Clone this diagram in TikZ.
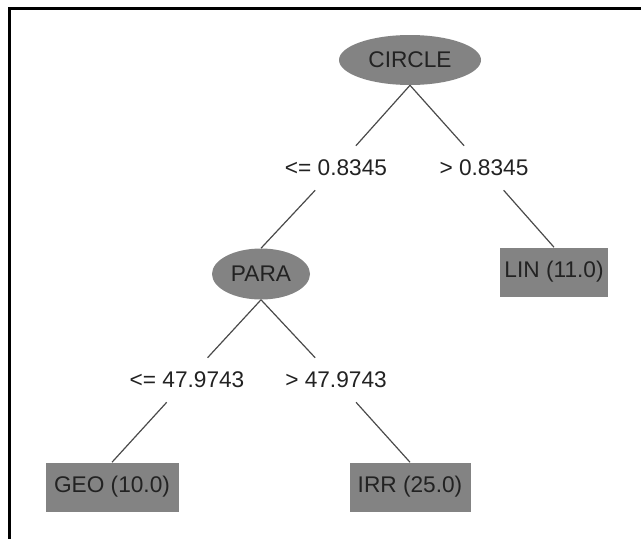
\documentclass[tikz,border=0pt]{standalone}
\usepackage{fontspec}
\setmainfont{Liberation Sans}
\usetikzlibrary{shapes.geometric}
\definecolor{nodefill}{HTML}{838383}
\definecolor{txt}{HTML}{222222}
\definecolor{edgecol}{HTML}{4A4A4A}
\begin{document}
\begin{tikzpicture}[x=0.75pt,y=-0.75pt,
  every node/.style={font=\fontsize{17}{20}\selectfont, text=txt},
  splitnode/.style={ellipse, fill=nodefill, inner sep=0pt},
  leafnode/.style={rectangle, fill=nodefill, inner sep=0pt, minimum height=36.75pt},
  condlabel/.style={inner sep=0pt, minimum height=33pt, minimum width=80pt},
  branch/.style={draw=edgecol, line width=0.9pt}]
\useasboundingbox (0,0) rectangle (641,539);
% frame
\draw[line width=2.25pt, black] (641,8.5) -- (9.5,8.5) -- (9.5,539);
% nodes
\node[splitnode, minimum width=106.5pt, minimum height=37.5pt] (circle) at (410,60) {CIRCLE};
\node[splitnode, minimum width=73.5pt, minimum height=38.25pt] (para) at (261,274) {PARA};
\node[leafnode, minimum width=81pt] (lin) at (554,272) {LIN (11.0)};
\node[leafnode, minimum width=99.75pt] (geo) at (112,487) {GEO (10.0)};
\node[leafnode, minimum width=90.75pt] (irr) at (410,487) {IRR (25.0)};
\node[condlabel] (l1) at (336,168) {<= 0.8345};
\node[condlabel] (l2) at (484,168) {> 0.8345};
\node[condlabel] (l3) at (187,380) {<= 47.9743};
\node[condlabel] (l4) at (336,380) {> 47.9743};
% edges
\draw[branch] (circle.south) -- (l1);
\draw[branch] (l1) -- (para.north);
\draw[branch] (circle.south) -- (l2);
\draw[branch] (l2) -- (lin.north);
\draw[branch] (para.south) -- (l3);
\draw[branch] (l3) -- (geo.north);
\draw[branch] (para.south) -- (l4);
\draw[branch] (l4) -- (irr.north);
\end{tikzpicture}
\end{document}
